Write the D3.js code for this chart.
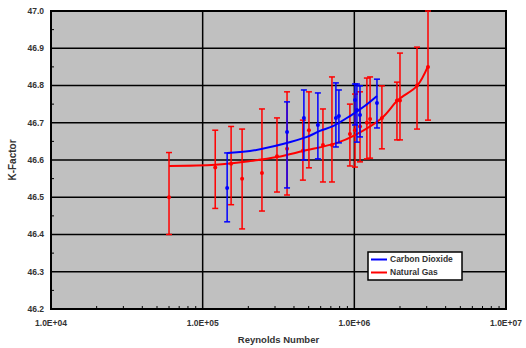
<!DOCTYPE html>
<html>
<head>
<meta charset="utf-8">
<script src="https://cdn.jsdelivr.net/npm/d3@7"></script>
<style>
  body { margin: 0; background: #fff; }
  svg text { font-family: 'Liberation Sans', Arial, sans-serif; font-weight: bold; fill: #333; }
</style>
</head>
<body>
<svg id="chart" width="526" height="348"></svg>
<script>
// natural gas measurements: Reynolds number, K-factor, lower / upper limit
const gasRe = [6.0e4, 1.21e5, 1.54e5, 1.82e5, 2.46e5, 3.09e5, 3.6e5, 4.58e5, 5.02e5, 6.21e5, 7.12e5,
  9.35e5, 1.01e6, 1.09e6, 1.21e6, 1.27e6, 1.52e6, 1.91e6, 2.0e6, 2.59e6, 3.06e6];
const gasK = [46.50, 46.58, 46.59, 46.55, 46.565, 46.61, 46.63, 46.625, 46.68, 46.64, 46.64,
  46.67, 46.68, 46.69, 46.70, 46.71, 46.713, 46.76, 46.76, 46.80, 46.85];
const gasLo = [46.40, 46.47, 46.48, 46.415, 46.463, 46.514, 46.506, 46.546, 46.579, 46.541, 46.541,
  46.584, 46.581, 46.595, 46.603, 46.605, 46.63, 46.654, 46.654, 46.683, 46.707];
const gasHi = [46.62, 46.68, 46.69, 46.683, 46.737, 46.713, 46.783, 46.707, 46.783, 46.737, 46.823,
  46.75, 46.777, 46.783, 46.82, 46.823, 46.799, 46.809, 46.887, 46.903, 47.0];

// carbon dioxide measurements
const co2Re = [1.45e5, 3.6e5, 4.65e5, 5.75e5, 7.56e5, 7.91e5, 1.01e6, 1.04e6, 1.09e6, 1.41e6];
const co2K = [46.525, 46.675, 46.713, 46.694, 46.713, 46.718, 46.761, 46.734, 46.721, 46.753];
const co2Lo = [46.434, 46.525, 46.60, 46.603, 46.635, 46.646, 46.694, 46.648, 46.662, 46.686];
const co2Hi = [46.619, 46.756, 46.788, 46.78, 46.807, 46.788, 46.804, 46.804, 46.799, 46.817];

// trend curves
const gasFitRe = [6.0e4, 1.21e5, 2.05e5, 3.09e5, 4.58e5, 7.68e5, 1.01e6, 1.52e6, 1.94e6, 2.59e6, 3.06e6];
const gasFitK = [46.584, 46.587, 46.597, 46.608, 46.624, 46.646, 46.667, 46.713, 46.761, 46.799, 46.852];
const co2FitRe = [1.45e5, 2.05e5, 3.38e5, 4.87e5, 5.93e5, 7.23e5, 9.35e5, 1.17e6, 1.41e6];
const co2FitK = [46.619, 46.624, 46.643, 46.662, 46.678, 46.691, 46.718, 46.745, 46.772];

const yTicks = [46.2, 46.3, 46.4, 46.5, 46.6, 46.7, 46.8, 46.9, 47.0];
const xTicks = [1e4, 1e5, 1e6, 1e7];
const seriesNames = ['Carbon Dioxide', 'Natural Gas'];
const seriesColors = ['#0000ff', '#ff0000'];

const svg = d3.select('#chart');
const plotLeft = 51, plotRight = 506, plotTop = 11, plotBottom = 309;

const x = d3.scaleLog().domain([1e4, 1e7]).range([plotLeft, plotRight]);
const y = d3.scaleLinear().domain([46.2, 47.0]).range([plotBottom, plotTop]);

/**
 * PLOT AREA
 */
svg.append('rect')
  .attr('x', plotLeft).attr('y', plotTop)
  .attr('width', plotRight - plotLeft).attr('height', plotBottom - plotTop)
  .attr('fill', '#c0c0c0');

// grid
svg.append('g')
  .selectAll('line')
  .data(yTicks.slice(1, -1))
  .join('line')
  .attr('x1', plotLeft).attr('x2', plotRight)
  .attr('y1', (d) => y(d)).attr('y2', (d) => y(d))
  .attr('stroke', '#000').attr('stroke-width', 1.5);

svg.append('g')
  .selectAll('line')
  .data(xTicks.slice(1, -1))
  .join('line')
  .attr('x1', (d) => x(d)).attr('x2', (d) => x(d))
  .attr('y1', plotTop).attr('y2', plotBottom)
  .attr('stroke', '#000').attr('stroke-width', 1.5);

// minor ticks
const minorX = [];
[1e4, 1e5, 1e6].forEach((dec) => { for (let k = 2; k <= 9; k++) minorX.push(dec * k); });
svg.append('g')
  .selectAll('line')
  .data(minorX)
  .join('line')
  .attr('x1', (d) => x(d)).attr('x2', (d) => x(d))
  .attr('y1', plotBottom).attr('y2', plotBottom - 3)
  .attr('stroke', '#000').attr('stroke-width', 1);

svg.append('g')
  .selectAll('line')
  .data(yTicks.slice(0, -1).map((d) => d + 0.05))
  .join('line')
  .attr('x1', plotLeft).attr('x2', plotLeft + 3)
  .attr('y1', (d) => y(d)).attr('y2', (d) => y(d))
  .attr('stroke', '#000').attr('stroke-width', 1);

svg.append('rect')
  .attr('x', plotLeft).attr('y', plotTop)
  .attr('width', plotRight - plotLeft).attr('height', plotBottom - plotTop)
  .attr('fill', 'none').attr('stroke', '#000').attr('stroke-width', 2);

/**
 * AXIS LABELS
 */
svg.append('g')
  .selectAll('text')
  .data(yTicks)
  .join('text')
  .attr('x', plotLeft - 7).attr('y', (d) => y(d))
  .attr('dy', '0.35em')
  .attr('text-anchor', 'end')
  .attr('font-size', 8.5)
  .text((d) => d.toFixed(1));

svg.append('g')
  .selectAll('text')
  .data(xTicks)
  .join('text')
  .attr('x', (d) => x(d)).attr('y', 326)
  .attr('text-anchor', 'middle')
  .attr('font-size', 8.5)
  .text((d) => '1.0E+0' + Math.round(Math.log10(d)));

svg.append('text')
  .attr('x', (plotLeft + plotRight) / 2).attr('y', 343)
  .attr('text-anchor', 'middle')
  .attr('font-size', 9.5)
  .text('Reynolds Number');

svg.append('text')
  .attr('transform', `translate(16, ${(plotTop + plotBottom) / 2}) rotate(-90)`)
  .attr('text-anchor', 'middle')
  .attr('font-size', 10)
  .text('K-Factor');

/**
 * SERIES
 */
function drawSeries(re, k, lo, hi, fitRe, fitK, color) {
  const g = svg.append('g');
  const pts = re.map((r, i) => ({ r, k: k[i], lo: lo[i], hi: hi[i] }));

  const bars = g.selectAll('g.bar').data(pts).join('g').attr('class', 'bar')
    .attr('stroke', color).attr('stroke-width', 1.5);
  bars.append('line')
    .attr('x1', (d) => x(d.r)).attr('x2', (d) => x(d.r))
    .attr('y1', (d) => y(d.lo)).attr('y2', (d) => y(d.hi));
  bars.append('line')
    .attr('x1', (d) => x(d.r) - 3).attr('x2', (d) => x(d.r) + 3)
    .attr('y1', (d) => y(d.lo)).attr('y2', (d) => y(d.lo));
  bars.append('line')
    .attr('x1', (d) => x(d.r) - 3).attr('x2', (d) => x(d.r) + 3)
    .attr('y1', (d) => y(d.hi)).attr('y2', (d) => y(d.hi));
  g.selectAll('circle').data(pts).join('circle')
    .attr('cx', (d) => x(d.r)).attr('cy', (d) => y(d.k))
    .attr('r', 2).attr('fill', color);

  const line = d3.line().curve(d3.curveCatmullRom)
    .x((d) => x(d[0])).y((d) => y(d[1]));
  g.append('path')
    .attr('d', line(fitRe.map((r, i) => [r, fitK[i]])))
    .attr('fill', 'none').attr('stroke', color).attr('stroke-width', 2);
}

drawSeries(gasRe, gasK, gasLo, gasHi, gasFitRe, gasFitK, seriesColors[1]);
drawSeries(co2Re, co2K, co2Lo, co2Hi, co2FitRe, co2FitK, seriesColors[0]);

/**
 * LEGEND
 */
const legend = svg.append('g').attr('transform', 'translate(368, 252)');
legend.append('rect')
  .attr('width', 94).attr('height', 28)
  .attr('fill', '#fff').attr('stroke', '#000').attr('stroke-width', 1.5);
seriesNames.forEach((name, i) => {
  legend.append('line')
    .attr('x1', 3).attr('x2', 19)
    .attr('y1', 7.5 + i * 13).attr('y2', 7.5 + i * 13)
    .attr('stroke', seriesColors[i]).attr('stroke-width', 2);
  legend.append('text')
    .attr('x', 22).attr('y', 7.5 + i * 13)
    .attr('dy', '0.35em')
    .attr('font-size', 8.5)
    .text(name);
});
</script>
</body>
</html>
